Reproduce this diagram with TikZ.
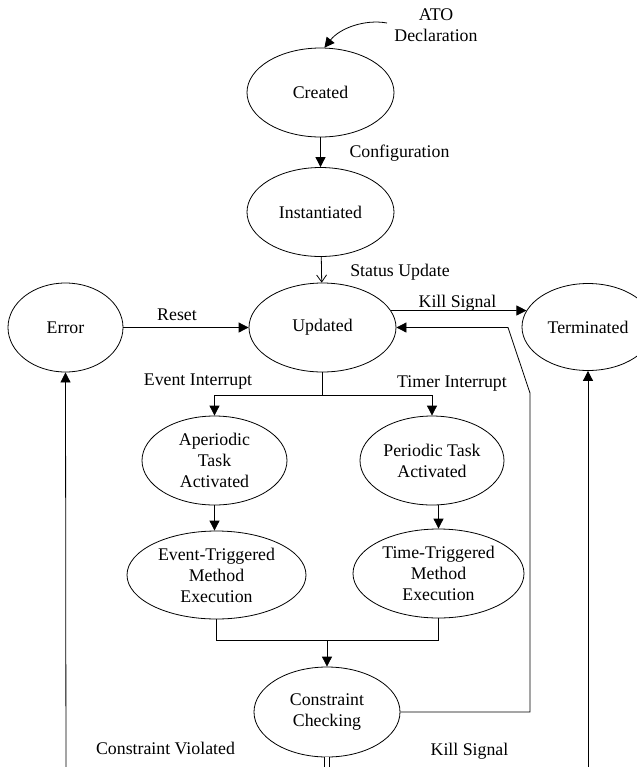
\documentclass[tikz,border=0pt]{standalone}
\usepackage{fontspec}
\setmainfont{Liberation Serif}
\usetikzlibrary{shapes.geometric,arrows.meta}

\begin{document}
\begin{tikzpicture}[x=0.5pt,y=-0.5pt,>={Triangle[length=5pt,width=5pt]},
        font=\fontsize{8.9}{10.5}\selectfont]
        \clip (0,0) rectangle (637,767);
        \begin{scope}[every node/.style={draw,ellipse,inner sep=0pt,align=center,
                minimum width=73.5pt,minimum height=44.5pt}]
        % Life cycle
        \node (created) at (320.5, 92.5) {Created};
        \node (inst) at (320.5, 212) {Instantiated};
        \node (upd) at (322.5, 327.5) {Updated};
        \node[minimum width=57.5pt] (err) at (65.5, 327.5) {Error};
        \node[minimum width=66pt,minimum height=43.5pt] (term) at (588, 327) {Terminated};
        
        % Tasks
        \node[minimum width=72.5pt] (aper) at (214.5, 460.5) {Aperiodic\\Task\\Activated};
        \node[minimum width=72pt] (per) at (432, 460.5) {Periodic Task\\Activated};
        \node[minimum width=89.5pt,minimum height=44pt] (evexec) at (216.5, 575) {Event-Triggered\\Method\\Execution};
        \node[minimum width=85.5pt] (tmexec) at (438.5, 573.5) {Time-Triggered\\Method\\Execution};
        \node[minimum width=73pt,minimum height=45pt] (check) at (327, 712) {Constraint\\Checking};
        \end{scope}
        
        % Labels
        \node[align=center] (ato) at (436, 25) {ATO\\Declaration};
        \node (conf) at (399.5, 153) {Configuration};
        \node (stat) at (400, 272) {Status Update};
        \node (reset) at (177, 315) {Reset};
        \node (kill) at (457.5, 303) {Kill Signal};
        \node (evint) at (198, 382) {Event Interrupt};
        \node (tmint) at (452, 383) {Timer Interrupt};
        \node (viol) at (165.5, 748) {Constraint Violated};
        \node (kill2) at (469.5, 751) {Kill Signal};
        
        \coordinate (atostart) at (387, 23);
        \coordinate (split) at (322.5, 395);
        \coordinate (join) at (327, 640);
        \coordinate (retA) at (530, 393);
        \coordinate (retB) at (508, 327.5);
        \coordinate (lowL) at (66, 790);
        \coordinate (lowR) at (588, 790);
        
        \draw[->] (atostart) .. controls (365, 19) and (340, 28) .. (created.85);
        \draw[->] (created) -- (inst);
        \draw[-{Straight Barb[length=3.5pt,width=5pt]}] (inst) -- (upd);
        \draw[->] (err) -- (upd);
        \draw[->] (upd.14) -- (term.165);
        \draw[->] (check.east) -| (retA) -- (retB) -- (upd.east);
        \draw (upd.south) -- (split);
        \draw[->] (split) -| (aper.north);
        \draw[->] (split) -| (per.north);
        \draw[->] (aper.south) -- (aper.south |- evexec.north);
        \draw[->] (per.south -| tmexec.north) -- (tmexec.north);
        \draw (evexec.south) |- (tmexec.south |- join) -- (tmexec.south);
        \draw[->] (join) -- (check.north);
        \draw[->] (lowL) -- (err.south);
        \draw[->] (lowR) -- (term.south);
        \draw[double,double distance=2pt] (check.south) -- (check.south |- lowL);
        
    \end{tikzpicture}
\end{document}
